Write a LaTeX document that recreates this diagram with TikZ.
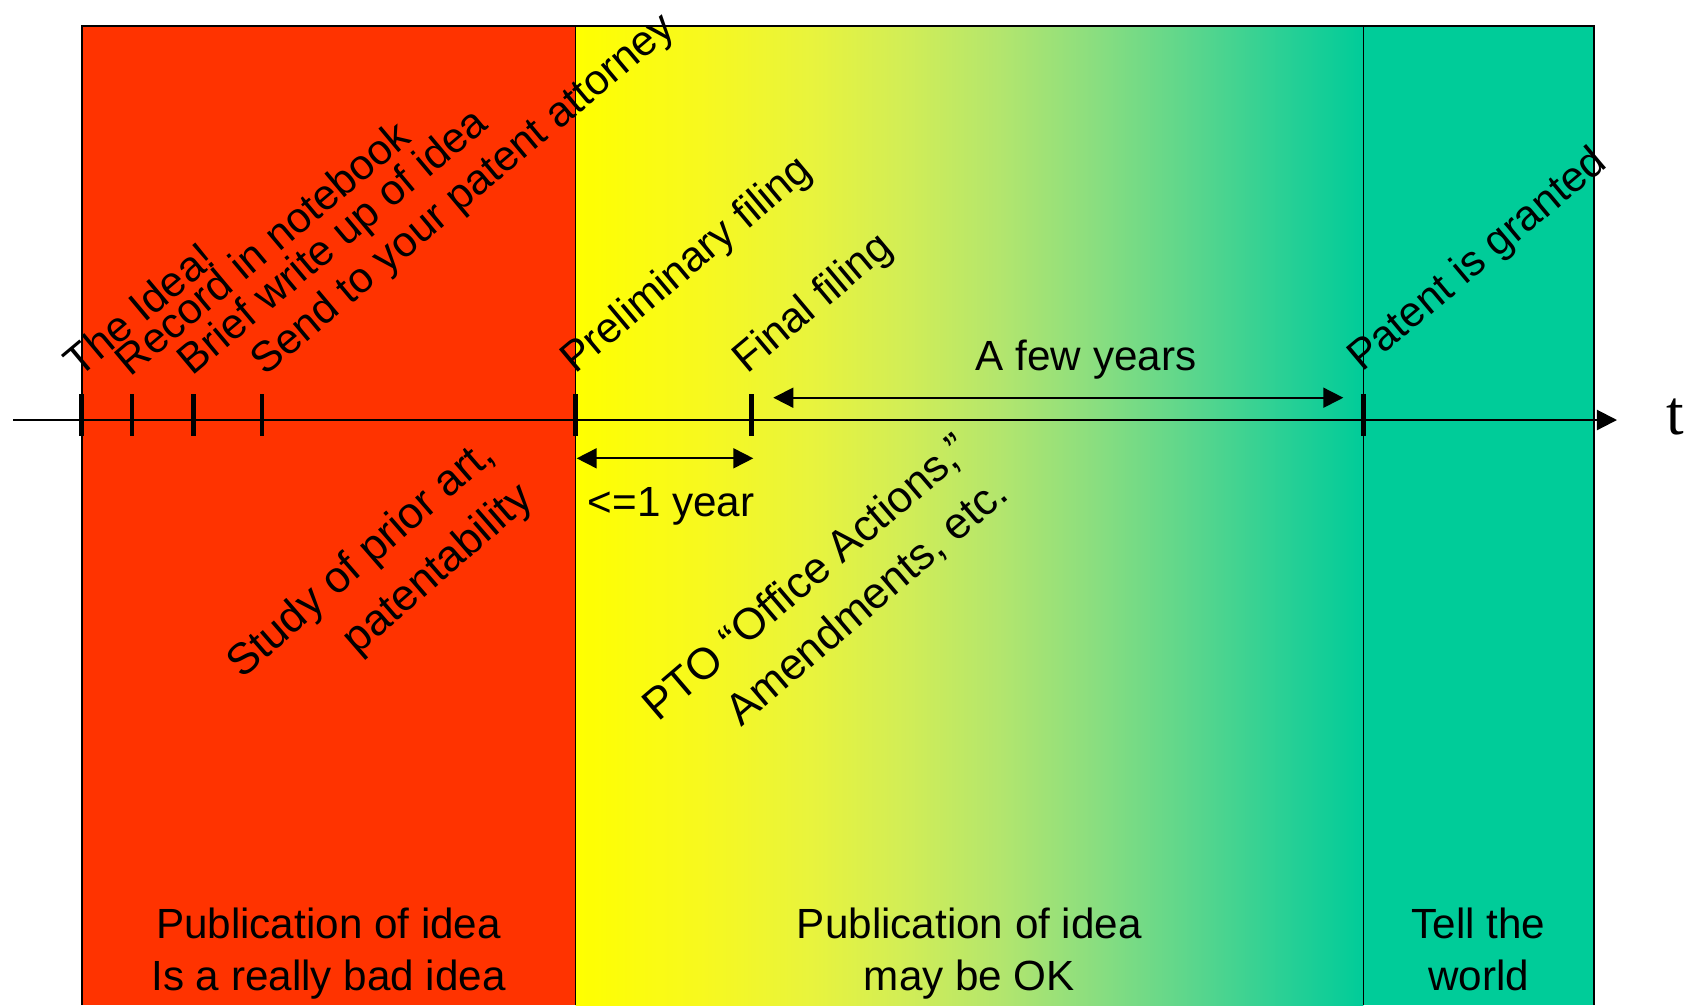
\documentclass[tikz,border=0pt]{standalone}
\usepackage{fontspec}
\setmainfont{Liberation Sans}
\newfontfamily\timesfont{Liberation Serif}
\usetikzlibrary{arrows.meta}
\definecolor{redz}{RGB}{255,51,0}
\definecolor{yelz}{RGB}{255,255,0}
\definecolor{grnz}{RGB}{0,204,153}
\pgfdeclarehorizontalshading{gradz}{100bp}{rgb(0bp)=(1,1,0); rgb(25bp)=(1,1,0);
  rgb(33bp)=(0.97,0.975,0.12); rgb(40bp)=(0.91,0.955,0.24); rgb(46bp)=(0.82,0.93,0.34);
  rgb(52bp)=(0.70,0.90,0.43); rgb(58bp)=(0.54,0.87,0.50); rgb(64bp)=(0.36,0.84,0.55);
  rgb(70bp)=(0.16,0.815,0.585); rgb(75bp)=(0,0.8,0.6); rgb(100bp)=(0,0.8,0.6)}
\begin{document}
\begin{tikzpicture}[x=0.01cm,y=-0.01cm,
  lbl/.style={font=\fontsize{12}{14.5}\selectfont, inner sep=0pt},
  rlbl/.style={font=\fontsize{12.1}{14.5}\selectfont, inner sep=0pt, rotate=40, anchor=base west},
  blk/.style={font=\fontsize{12.5}{16.5}\selectfont, inner sep=0pt, align=right},
  tickmark/.style={line width=1.4pt},
  tip/.style={-{Triangle[length=5.7pt,width=5.7pt]}},
  dtip/.style={{Triangle[length=5.7pt,width=5.7pt]}-{Triangle[length=5.7pt,width=5.7pt]}, line width=0.5pt},
]
\useasboundingbox (0,0) rectangle (1690,1005);
% regions
\fill[redz] (82,26) rectangle (575.5,1005);
\shade[shading=gradz] (575.5,26) rectangle (1363.3,1005);
\fill[grnz] (1363.3,26) rectangle (1594,1005);
\draw[line width=0.5pt] (82,1005) -- (82,26) -- (1594,26) -- (1594,1005);
\draw[line width=0.4pt] (575.5,26) -- (575.5,1005);
\draw[line width=0.4pt] (1363.3,26) -- (1363.3,1005);
% axis
\coordinate (axS) at (13,420);
\coordinate (axE) at (1617,420);
\draw[tip, line width=0.6pt] (axS) -- (axE);
\node[font=\timesfont\fontsize{18}{20}\selectfont, anchor=base, inner sep=0pt] (tlab) at (1675,434) {t};
% ticks
\foreach \x in {81.7,132,193.7,262,575.5,751.5,1363.3}
  \draw[tickmark] (\x,394) -- (\x,436);
% top labels
\node[rlbl] (l1) at (79,379) {The Idea!};
\node[rlbl] (l2) at (130,378) {Record in notebook};
\node[rlbl] (l3) at (192,377) {Brief write up of idea};
\node[rlbl] (l4) at (265,377) {Send to your patent attorney};
\node[rlbl] (l5) at (574.5,375) {Preliminary filing};
\node[rlbl] (l6) at (747,375) {Final filing};
\node[rlbl] (l7) at (1361.5,373) {Patent is granted};
% interval arrows
\coordinate (fyL) at (773.3,397.7);
\coordinate (fyR) at (1343.3,397.7);
\draw[dtip] (fyL) -- (fyR);
\node[lbl, anchor=base] (fy) at (1086,370) {A few years};
\coordinate (oyL) at (576.7,458.3);
\coordinate (oyR) at (753.3,458.3);
\draw[dtip] (oyL) -- (oyR);
\node[lbl, anchor=base] (oy) at (671,516.5) {<=1 year};
% rotated blocks
\node[blk, rotate=41] (study) at (381,582) {Study of prior art,\\patentability};
\node[blk, rotate=40.5] (pto) at (826,600) {PTO “Office Actions,”\\Amendments, etc.};
% bottom texts
\node[lbl, anchor=base] (b1a) at (328.5,938) {Publication of idea};
\node[lbl, anchor=base] (b1b) at (328.5,990) {Is a really bad idea};
\node[lbl, anchor=base] (b2a) at (969.4,938) {Publication of idea};
\node[lbl, anchor=base] (b2b) at (969.4,990) {may be OK};
\node[lbl, anchor=base] (b3a) at (1478.6,938) {Tell the};
\node[lbl, anchor=base] (b3b) at (1478.6,990) {world};
\end{tikzpicture}
\end{document}
